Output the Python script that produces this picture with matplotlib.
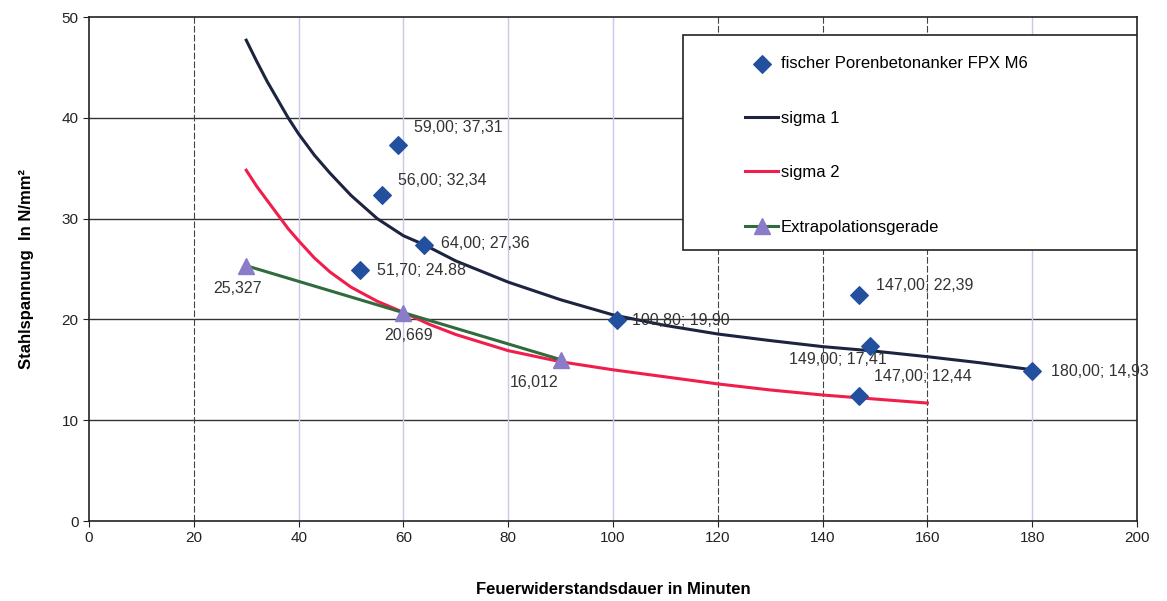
"""
Stahlspannung vs. Feuerwiderstandsdauer
fischer Porenbetonanker FPX M6 with fitted curves sigma 1 / sigma 2
"""

import matplotlib.pyplot as plt
from matplotlib.patches import Rectangle

plt.rcParams['font.family'] = ['Liberation Sans', 'DejaVu Sans']

# Test results (minutes, N/mm²)
pts_x = [59.0, 56.0, 64.0, 51.7, 100.8, 147.0, 149.0, 147.0, 180.0]
pts_y = [37.31, 32.34, 27.36, 24.88, 19.90, 22.39, 17.41, 12.44, 14.93]
pts_lbl = ['59,00; 37,31', '56,00; 32,34', '64,00; 27,36', '51,70; 24.88',
           '100,80; 19,90', '147,00; 22,39', '149,00; 17,41', '147,00; 12,44',
           '180,00; 14,93']

# sigma 1 curve
s1_x = [30, 32, 34, 36, 38, 40, 43, 46, 50, 55, 60, 64, 70, 80, 90, 100,
        110, 120, 130, 140, 150, 160, 170, 180]
s1_y = [47.7, 45.6, 43.6, 41.8, 40.0, 38.4, 36.3, 34.5, 32.3, 30.0, 28.3, 27.4,
        25.8, 23.7, 21.95, 20.45, 19.4, 18.55, 17.9, 17.3, 16.85, 16.3, 15.7, 15.0]

# sigma 2 curve
s2_x = [30, 32, 34, 36, 38, 40, 43, 46, 50, 55, 60, 65, 70, 80, 90, 100,
        110, 120, 130, 140, 150, 160]
s2_y = [34.8, 33.2, 31.8, 30.4, 29.0, 27.8, 26.1, 24.7, 23.2, 21.8, 20.7, 19.5,
        18.5, 16.9, 15.8, 15.0, 14.3, 13.6, 13.0, 12.5, 12.1, 11.7]

# Extrapolationsgerade
ex_x = [30, 60, 90]
ex_y = [25.327, 20.669, 16.012]
ex_lbl = ['25,327', '20,669', '16,012']

fig = plt.figure(figsize=(11.67, 6.01), dpi=100)
ax = fig.add_axes([0.0763, 0.1331, 0.898, 0.8386])

# grid: scanned original has a mix of dark and faint lines
for yv in [10, 20, 30, 40]:
    ax.axhline(yv, color='#333333', lw=1.0, zorder=0)
dark_x = [20, 120, 140, 160]
light_x = [40, 60, 80, 100, 180]
for xv in dark_x:
    ax.axvline(xv, color='#444444', lw=0.8, ls=(0, (6, 2)), zorder=0)
for xv in light_x:
    ax.axvline(xv, color='#cdc6ea', lw=1.0, zorder=0)

ax.plot(s1_x, s1_y, color='#1c2440', lw=2.2, label='sigma 1', zorder=3)
ax.plot(s2_x, s2_y, color='#f01e4b', lw=2.2, label='sigma 2', zorder=3)
ax.plot(ex_x, ex_y, color='#2f6b3c', lw=2.2, marker='^', ms=11,
        mfc='#8a7cc8', mec='#8a7cc8', label='Extrapolationsgerade', zorder=4)
ax.scatter(pts_x, pts_y, marker='D', s=80, color='#22509e',
           label='fischer Porenbetonanker FPX M6', zorder=5)

# point labels (offsets in pixels)
offs = [(16, 17), (16, 15), (17, 2), (17, 0), (15, 0), (17, 10), (17, -14), (15, 19), (19, -1)]
has = ['left'] * 6 + ['right'] + ['left'] * 2
for x, y, t, (dx, dy), ha in zip(pts_x, pts_y, pts_lbl, offs, has):
    ax.annotate(t, (x, y), xytext=(dx, dy), textcoords='offset pixels',
                fontsize=11.5, color='#333333', va='center', ha=ha,
                annotation_clip=False)
ex_dx = [-9, 5, -27]
for x, y, t, dx in zip(ex_x, ex_y, ex_lbl, ex_dx):
    ax.annotate(t, (x, y), xytext=(dx, -23), textcoords='offset pixels',
                fontsize=11.5, color='#333333', va='center', ha='center')

ax.set_xlim(0, 200)
ax.set_ylim(0, 50)
ax.set_xticks(range(0, 201, 20))
ax.set_yticks(range(0, 51, 10))
ax.tick_params(labelsize=11, direction='out', length=4, colors='#222222')
for sp in ax.spines.values():
    sp.set_color('#222222')
    sp.set_linewidth(1.2)

ax.set_xlabel('Feuerwiderstandsdauer in Minuten', fontsize=12, fontweight='bold', labelpad=26)
ax.set_ylabel('Stahlspannung  In N/mm²', fontsize=12, fontweight='bold', labelpad=20)

# legend box
ax.add_patch(Rectangle((0.5668, 0.5377), 0.4332, 0.4266, transform=ax.transAxes,
                       facecolor='white', edgecolor='#222222', lw=1.2, zorder=6))
h, l = ax.get_legend_handles_labels()
order = [3, 0, 1, 2]
leg = ax.legend([h[i] for i in order], [l[i] for i in order],
                loc='upper left', bbox_to_anchor=(0.626, 0.922),
                borderaxespad=0, borderpad=0, fontsize=12, labelspacing=2.37,
                handlelength=2.0, handletextpad=0.15, frameon=False)
leg.set_zorder(7)

fig.savefig('out.png', dpi=100)
plt.close()
